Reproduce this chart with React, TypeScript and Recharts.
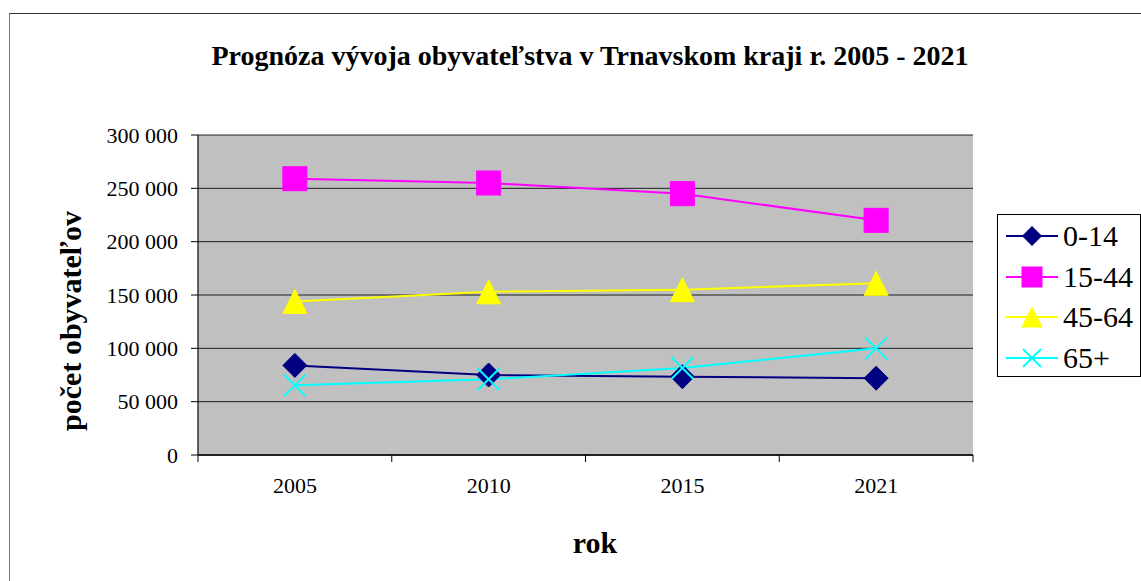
import React from "react";
import { LineChart, Line, XAxis, YAxis, CartesianGrid, Legend } from "recharts";

const years = ["2005", "2010", "2015", "2021"];
const age0_14 = [84000, 75000, 73400, 72000];
const age15_44 = [259000, 255000, 245000, 220000];
const age45_64 = [144000, 153000, 155000, 161000];
const age65plus = [65300, 71000, 81500, 100000];
const yTicks = [0, 50000, 100000, 150000, 200000, 250000, 300000];

const seriesNames = ["0-14", "15-44", "45-64", "65+"];
const seriesColors = ["#000080", "#FF00FF", "#FFFF00", "#00FFFF"];
const seriesShapes = ["diamond", "square", "triangle", "cross"];

const data = years.map((y, i) => ({
  year: y,
  s0: age0_14[i],
  s1: age15_44[i],
  s2: age45_64[i],
  s3: age65plus[i],
}));

const FONT = '"Liberation Serif", "Times New Roman", serif';
const W = 1141;
const H = 581;
const PLOT_LEFT = 198;
const PLOT_RIGHT = 973;
const PLOT_TOP = 135;
const PLOT_BOTTOM = 455;
const BAND = (PLOT_RIGHT - PLOT_LEFT) / years.length;

function Marker({ shape, cx, cy, color, size }: any) {
  const h = size / 2;
  if (shape === "diamond") {
    return (
      <polygon
        points={`${cx},${cy - h} ${cx + h},${cy} ${cx},${cy + h} ${cx - h},${cy}`}
        fill={color}
        stroke={color}
      />
    );
  }
  if (shape === "square") {
    return <rect x={cx - h} y={cy - h} width={size} height={size} fill={color} stroke={color} />;
  }
  if (shape === "triangle") {
    return (
      <polygon
        points={`${cx},${cy - h} ${cx + h},${cy + h} ${cx - h},${cy + h}`}
        fill={color}
        stroke={color}
      />
    );
  }
  return (
    <g stroke={color} strokeWidth={2}>
      <line x1={cx - h} y1={cy - h} x2={cx + h} y2={cy + h} />
      <line x1={cx - h} y1={cy + h} x2={cx + h} y2={cy - h} />
    </g>
  );
}

const makeDot = (idx: number) => (props: any) => {
  const { cx, cy, index } = props;
  if (cx == null || cy == null) return <g key={`d${idx}-${index}`} />;
  const sz = seriesShapes[idx] === "cross" ? 22 : 24;
  return (
    <g key={`d${idx}-${index}`}>
      <Marker shape={seriesShapes[idx]} cx={cx} cy={cy} color={seriesColors[idx]} size={sz} />
    </g>
  );
};

const XTick = (props: any) => {
  const { x, y, payload, index } = props;
  const left = x - BAND / 2;
  const right = x + BAND / 2;
  return (
    <g>
      <line x1={left} y1={PLOT_BOTTOM} x2={left} y2={PLOT_BOTTOM + 7} stroke="#000" />
      {index === years.length - 1 && (
        <line x1={right} y1={PLOT_BOTTOM} x2={right} y2={PLOT_BOTTOM + 7} stroke="#000" />
      )}
      <text
        x={x}
        y={y + 30}
        textAnchor="middle"
        style={{ fontFamily: FONT, fontSize: 22 }}
        fill="#000"
      >
        {payload.value}
      </text>
    </g>
  );
};

const fmt = (v: number) => {
  const s = String(Math.round(v));
  return s.replace(/\B(?=(\d{3})+(?!\d))/g, " ");
};

const LegendContent = () => (
  <div
    style={{
      width: 144,
      height: 163,
      border: "1px solid #000",
      boxSizing: "border-box",
      background: "#fff",
      position: "relative",
    }}
  >
    {seriesNames.map((n, i) => {
      const cy = 21 + i * 40.7;
      const sizes = [19, 20, 20, 18];
      return (
        <div key={n} style={{ position: "absolute", left: 0, top: cy - 20, height: 40, width: 143 }}>
          <svg width={62} height={40} style={{ position: "absolute", left: 0, top: 0 }}>
            <line x1={8} y1={20} x2={60} y2={20} stroke={seriesColors[i]} strokeWidth={2} />
            <Marker shape={seriesShapes[i]} cx={34} cy={20} color={seriesColors[i]} size={sizes[i]} />
          </svg>
          <span
            style={{
              position: "absolute",
              left: 65,
              top: 0,
              lineHeight: "40px",
              fontFamily: "'Liberation Serif', serif",
              fontSize: 30,
              color: "#000",
              whiteSpace: "nowrap",
            }}
          >
            {n}
          </span>
        </div>
      );
    })}
  </div>
);

export default function App() {
  return (
    <div
      style={{
        position: "absolute",
        left: 0,
        top: 0,
        width: W,
        height: H,
        overflow: "hidden",
        background: "#fff",
      }}
    >
      <div
        style={{
          position: "absolute",
          left: 9,
          top: 13,
          width: 1300,
          height: 800,
          borderTop: "1px solid #333",
          borderLeft: "1px solid #777",
        }}
      />
      <div
        style={{
          position: "absolute",
          left: 0,
          top: 40,
          width: 1180,
          textAlign: "center",
          fontFamily: FONT,
          fontWeight: "bold",
          fontSize: 28,
          color: "#000",
          whiteSpace: "nowrap",
        }}
      >
        Prognóza vývoja obyvateľstva v Trnavskom kraji r. 2005 - 2021
      </div>
      <div style={{ position: "absolute", left: 0, top: 0 }}>
        <LineChart
          width={W}
          height={H}
          data={data}
          margin={{ top: PLOT_TOP, right: W - PLOT_RIGHT, bottom: 96, left: 0 }}
        >
          <CartesianGrid
            horizontal={true}
            vertical={false}
            fill="#C0C0C0"
            stroke="#000"
            strokeOpacity={0.85}
            horizontalValues={yTicks}
          />
          <XAxis
            dataKey="year"
            scale="band"
            height={30}
            axisLine={{ stroke: "#000", strokeWidth: 1.5 }}
            tickLine={false}
            tick={<XTick />}
            interval={0}
            label={{
              content: () => (
                <text
                  x={595}
                  y={542}
                  textAnchor="middle"
                  dominantBaseline="central"
                  style={{ fontFamily: FONT, fontWeight: "bold", fontSize: 30 }}
                  fill="#000"
                >
                  rok
                </text>
              ),
            }}
          />
          <YAxis
            width={PLOT_LEFT}
            domain={[0, 300000]}
            ticks={yTicks}
            interval={0}
            tickFormatter={fmt}
            axisLine={{ stroke: "#333", strokeWidth: 1.5 }}
            tickLine={{ stroke: "#000" }}
            tickSize={7}
            tickMargin={13}
            tick={{ fontFamily: FONT, fontSize: 22, fill: "#000" }}
            label={{
              content: () => (
                <text
                  x={70}
                  y={321}
                  transform="rotate(-90 70 321)"
                  textAnchor="middle"
                  dominantBaseline="central"
                  style={{ fontFamily: FONT, fontWeight: "bold", fontSize: 30 }}
                  fill="#000"
                >
                  počet obyvateľov
                </text>
              ),
            }}
          />
          <YAxis
            yAxisId="right"
            orientation="right"
            width={0}
            tick={false}
            tickLine={false}
            axisLine={{ stroke: "#808080", strokeWidth: 2 }}
          />
          <Legend
            verticalAlign="middle"
            align="center"
            layout="vertical"
            content={<LegendContent />}
            wrapperStyle={{ position: "absolute", left: 997, top: 214, width: 144, height: 163 }}
          />
          {["s0", "s1", "s2", "s3"].map((k, i) => (
            <Line
              key={k}
              dataKey={k}
              name={seriesNames[i]}
              stroke={seriesColors[i]}
              strokeWidth={2}
              dot={makeDot(i)}
              activeDot={false}
              isAnimationActive={false}
            />
          ))}
        </LineChart>
      </div>
    </div>
  );
}
